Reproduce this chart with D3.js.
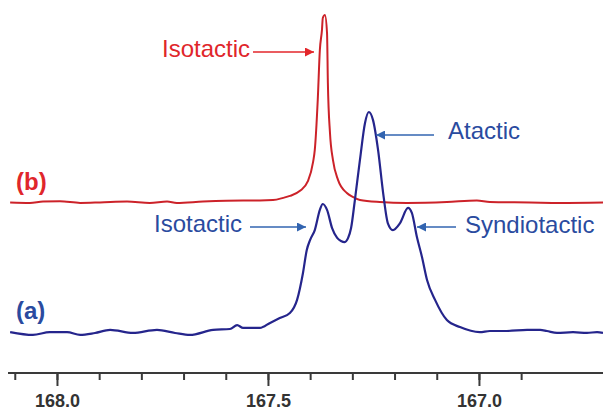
<!DOCTYPE html>
<html>
<head>
<meta charset="utf-8">
<script src="https://cdn.jsdelivr.net/npm/d3@7"></script>
<style>
  html, body { margin: 0; padding: 0; background: #fff; }
  svg { display: block; }
  text { font-family: "Liberation Sans", Arial, sans-serif; }
</style>
</head>
<body>
<svg id="chart" width="603" height="410"></svg>
<script>
// ---- data (chemical shift in ppm, relative intensity) ----
const blueShift = [168.111,168.057,168.017,167.976,167.945,167.910,167.874,167.820,167.763,167.720,167.685,167.630,167.590,167.573,167.559,167.543,167.519,167.495,167.472,167.448,167.431,167.417,167.408,167.400,167.389,167.377,167.370,167.360,167.348,167.336,167.327,167.318,167.310,167.303,167.294,167.282,167.270,167.261,167.251,167.239,167.227,167.216,167.204,167.187,167.168,167.159,167.147,167.135,167.123,167.104,167.076,167.045,166.998,166.974,166.934,166.886,166.855,166.839,166.815,166.777,166.744,166.720,166.706];
const blueIntensity = [-0.5,-1.8,-0.5,-0.5,-1.8,-0.9,0.5,-0.9,0.5,-0.9,-1.8,0.5,0.9,2.7,1.4,1.4,1.4,3.7,5.9,8.2,14.2,26.5,37.0,41.6,46.1,55.3,58.0,55.3,47.0,42.5,41.1,40.6,42.5,47.0,59.8,78.1,95.0,100,96.3,82.6,63.0,49.3,46.1,49.3,56.2,53.9,42.9,33.8,23.3,14.2,5.0,1.8,-0.5,0,0,0.5,0.5,0,-0.9,-0.5,-0.9,-0.5,-0.9];

const redShift = [168.111,168.064,168.033,167.993,167.945,167.898,167.834,167.780,167.739,167.716,167.654,167.559,167.519,167.488,167.464,167.448,167.424,167.405,167.393,167.389,167.382,167.377,167.372,167.370,167.365,167.360,167.358,167.353,167.346,167.334,167.313,167.299,167.282,167.235,167.171,167.076,167.005,166.974,166.879,166.808,166.706];
const redIntensity = [0,-0.2,0.4,0.5,-0.2,0,0.4,-0.2,0.4,-0.2,0.4,0.9,0.9,1.1,2.1,3.0,5.3,9.8,18.5,24.0,46.8,69.6,78.8,84.2,85.6,77.4,54.6,31.7,19.4,10.3,4.3,2.5,1.1,0.2,-0.2,0.2,0.9,0.2,0,-0.2,0];
const redOffset = 58.7;

const majorTicks = [168.0, 167.5, 167.0];
const minorTicks = [168.1,168.0,167.9,167.8,167.7,167.6,167.5,167.4,167.3,167.2,167.1,167.0,166.9];
const axisExtent = [168.116, 166.706];

const seriesLabels = ["(a)", "(b)"];
const annotationTexts = ["Isotactic", "Atactic", "Isotactic", "Syndiotactic"];

// ---- drawing ----
const svg = d3.select("#chart");
const W = 603, H = 410;

const x = d3.scaleLinear().domain([168.135, 166.706]).range([0, W]);
const y = d3.scaleLinear().domain([0, 100]).range([331, 112]);

const blueColor = "#25258c";
const redColor = "#cc2229";
const blueText = "#2a4b9f";
const redText = "#e0262b";
const blueArrow = "#3264b0";
const redArrow = "#e3262b";

const line = d3.line()
  .x(d => x(d[0]))
  .y(d => y(d[1]))
  .curve(d3.curveMonotoneX);

const redData = redShift.map((s, i) => [s, redIntensity[i] + redOffset]);
const blueData = blueShift.map((s, i) => [s, blueIntensity[i]]);

svg.append("path").datum(redData)
  .attr("d", line).attr("fill", "none")
  .attr("stroke", redColor).attr("stroke-width", 2)
  .attr("stroke-linejoin", "round");

svg.append("path").datum(blueData)
  .attr("d", line).attr("fill", "none")
  .attr("stroke", blueColor).attr("stroke-width", 2.2)
  .attr("stroke-linejoin", "round");

// axis
const axisY = 373;
const axisG = svg.append("g").attr("transform", `translate(0,${axisY})`);
axisG.append("line")
  .attr("x1", x(axisExtent[0])).attr("x2", x(axisExtent[1]))
  .attr("y1", 0).attr("y2", 0)
  .attr("stroke", "#3a3a3a").attr("stroke-width", 2);

const minorAxis = d3.axisBottom(x).tickValues(minorTicks).tickSize(7).tickFormat("");
const gMinor = axisG.append("g").call(minorAxis);
gMinor.select(".domain").remove();
gMinor.selectAll(".tick line").attr("stroke", "#3a3a3a").attr("stroke-width", 2);

const majorAxis = d3.axisBottom(x).tickValues(majorTicks).tickSize(13)
  .tickFormat(d3.format(".1f")).tickPadding(8);
const gMajor = axisG.append("g").call(majorAxis);
gMajor.select(".domain").remove();
gMajor.selectAll(".tick line").attr("stroke", "#3a3a3a").attr("stroke-width", 2);
gMajor.selectAll(".tick text")
  .attr("font-family", "'Liberation Sans', Arial, sans-serif")
  .attr("font-size", 18).attr("font-weight", "bold")
  .attr("fill", "#333");

// series labels
svg.append("text").text(seriesLabels[1])
  .attr("x", 16).attr("y", 190)
  .attr("font-size", 24).attr("font-weight", "bold").attr("fill", redText);
svg.append("text").text(seriesLabels[0])
  .attr("x", 16).attr("y", 319)
  .attr("font-size", 24).attr("font-weight", "bold").attr("fill", blueText);

// arrow markers
const defs = svg.append("defs");
function marker(id, color) {
  defs.append("marker").attr("id", id)
    .attr("viewBox", "0 0 10 10").attr("refX", 10).attr("refY", 5)
    .attr("markerUnits", "userSpaceOnUse")
    .attr("markerWidth", 10).attr("markerHeight", 9).attr("orient", "auto")
    .append("path").attr("d", "M0,0 L10,5 L0,10 Z").attr("fill", color);
}
marker("arrRed", redArrow);
marker("arrBlue", blueArrow);

const annotations = [
  { t: annotationTexts[0], tx: 162, ty: 57, anchor: "start", color: redText, ax1: 253, ax2: 314, ay: 52, m: "arrRed", ac: redArrow },
  { t: annotationTexts[1], tx: 448, ty: 139, anchor: "start", color: blueText, ax1: 434, ax2: 376, ay: 135, m: "arrBlue", ac: blueArrow },
  { t: annotationTexts[2], tx: 154, ty: 232, anchor: "start", color: blueText, ax1: 250, ax2: 306, ay: 227, m: "arrBlue", ac: blueArrow },
  { t: annotationTexts[3], tx: 465, ty: 233, anchor: "start", color: blueText, ax1: 456, ax2: 417, ay: 227, m: "arrBlue", ac: blueArrow }
];

annotations.forEach(a => {
  svg.append("text").text(a.t)
    .attr("x", a.tx).attr("y", a.ty)
    .attr("text-anchor", a.anchor)
    .attr("font-size", 24).attr("fill", a.color);
  svg.append("line")
    .attr("x1", a.ax1).attr("x2", a.ax2).attr("y1", a.ay).attr("y2", a.ay)
    .attr("stroke", a.ac).attr("stroke-width", 1.6)
    .attr("marker-end", `url(#${a.m})`);
});
</script>
</body>
</html>
